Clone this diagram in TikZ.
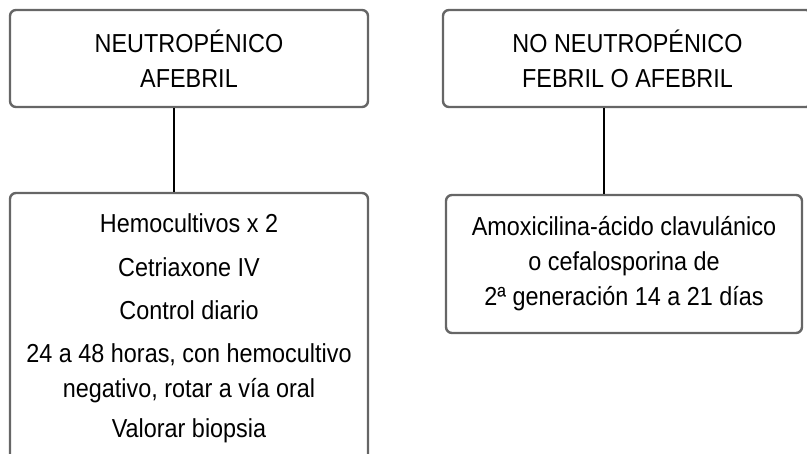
\documentclass[tikz,border=0pt]{standalone}
\usepackage{fontspec}
\setmainfont{Liberation Sans}[FakeStretch=0.9]
\definecolor{boxgray}{HTML}{666666}

\begin{document}
\begin{tikzpicture}[x=1pt,y=-1pt,
  caja/.style={draw=boxgray, line width=2.4pt, rounded corners=6pt, align=center,
    inner sep=0pt, font=\fontsize{26}{35}\selectfont},
  enlace/.style={line width=2.6pt, black}]
\useasboundingbox (0,0) rectangle (807,454);

\node[caja, minimum width=358, minimum height=97] (neutro) at (189,58.5) {NEUTROPÉNICO\\AFEBRIL};
\node[caja, minimum width=369, minimum height=97] (noneutro) at (627.5,58.5) {NO NEUTROPÉNICO\\FEBRIL O AFEBRIL};

\node[caja, minimum width=358, minimum height=271] (tratneutro) at (189,328.5)
  {Hemocultivos x 2\\[9pt]Cetriaxone IV\\[8pt]Control diario\\[8pt]24 a 48 horas, con hemocultivo\\negativo, rotar a vía oral\\[5pt]Valorar biopsia};
\node[caja, minimum width=356, minimum height=138] (tratno) at (624,264)
  {Amoxicilina-ácido clavulánico\\o cefalosporina de\\2ª generación 14 a 21 días};

\draw[enlace] ([xshift=-15pt]tratneutro.north) -- ([xshift=-15pt]tratneutro.north |- neutro.south);
\draw[enlace] ([xshift=-20pt]tratno.north) -- ([xshift=-20pt]tratno.north |- noneutro.south);
\end{tikzpicture}
\end{document}
